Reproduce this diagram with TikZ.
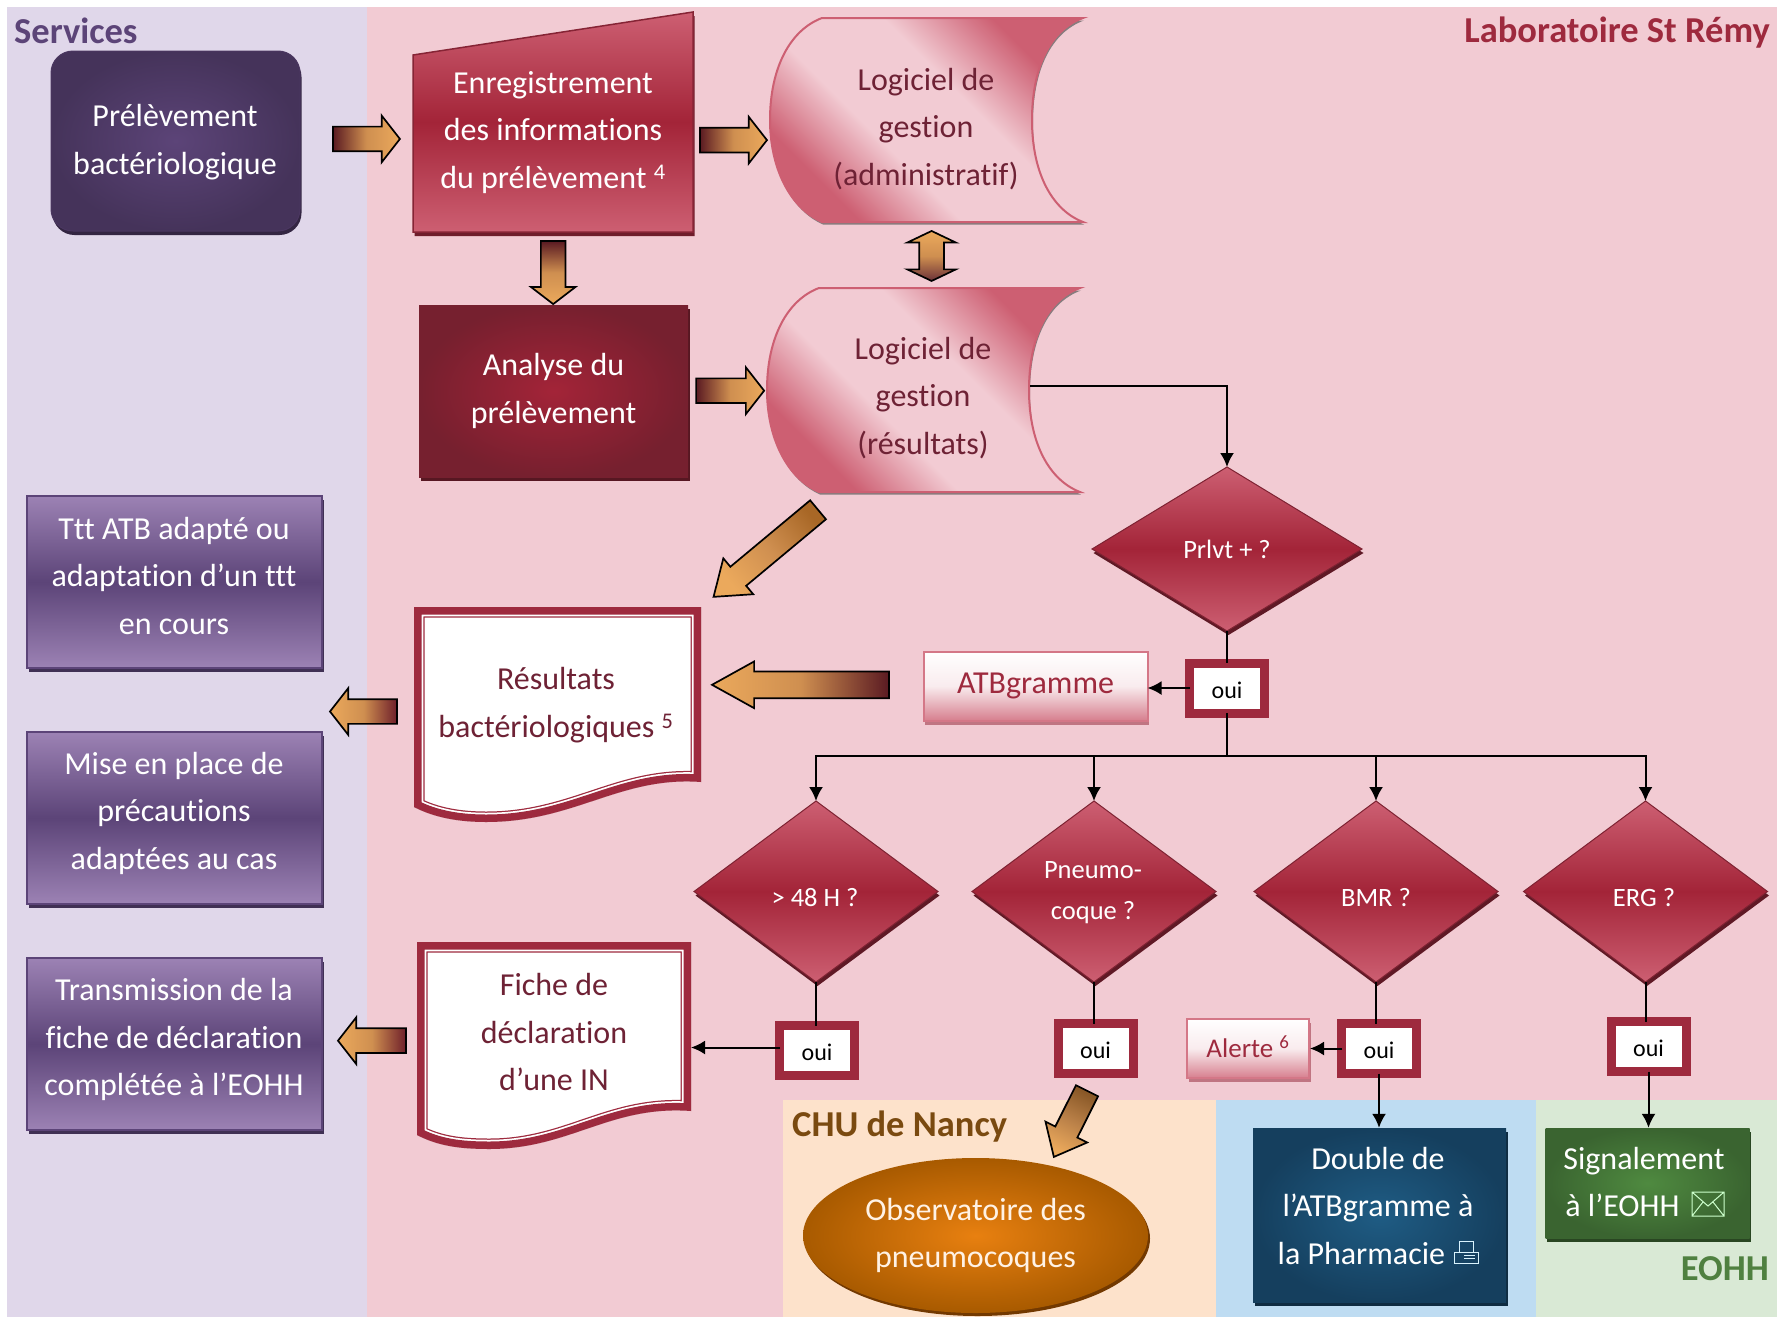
\documentclass[tikz,border=0pt]{standalone}
\usepackage{fontspec}
\setmainfont[Ligatures=NoCommon]{Carlito}
\usepackage{tikz}
\usetikzlibrary{arrows.meta}
\usetikzlibrary{shapes.geometric}
\usetikzlibrary{shapes.arrows}
\usetikzlibrary{shadows}

\definecolor{lilacbg}{HTML}{E0D7EA}
\definecolor{pinkbg}{HTML}{F2CBD3}
\definecolor{orangebg}{HTML}{FDE2CB}
\definecolor{bluebg}{HTML}{BEDCF2}
\definecolor{greenbg}{HTML}{D9E9D5}
\definecolor{maroon}{HTML}{9E2A3E}
\definecolor{crimson}{HTML}{A32438}
\definecolor{winetext}{HTML}{6E2235}
\definecolor{rosy}{HTML}{CD5F72}
\definecolor{violetdark}{HTML}{5C4478}
\definecolor{violetlight}{HTML}{9C82B4}
\definecolor{arrowtail}{HTML}{5A1A22}
\definecolor{arrowmid}{HTML}{CF8F50}
\definecolor{arrowtip}{HTML}{EBA95C}
\definecolor{browntitle}{HTML}{7A4A10}
\definecolor{greentitle}{HTML}{4F8040}
\definecolor{orangein}{HTML}{E88010}
\definecolor{orangeout}{HTML}{A85A00}
\definecolor{bluein}{HTML}{1F5C84}
\definecolor{blueout}{HTML}{153F5E}
\definecolor{greenin}{HTML}{4F8A40}
\definecolor{greenout}{HTML}{3A6430}

\pgfdeclareverticalshading{storedshade}{100bp}{color(0bp)=(rosy); color(27bp)=(rosy); color(41bp)=(pinkbg); color(58bp)=(pinkbg); color(73bp)=(rosy); color(100bp)=(rosy)}

\tikzset{
    bodytext/.style={font=\fontsize{32}{47.5}\selectfont, align=center, inner sep=0pt, outer sep=0pt},
    smalltext/.style={font=\fontsize{26.5}{41}\selectfont, align=center, inner sep=0pt, outer sep=0pt, text=white},
    zonetitle/.style={font=\fontsize{36.5}{40}\selectfont\bfseries, inner sep=0pt},
    link/.style={line width=2pt},
    linkarrow/.style={link, -{Latex[length=14pt,width=14pt]}},
    solidbox/.style={bodytext, text=white, rectangle},
    shadedark/.style={general shadow={shadow xshift=1.5pt, shadow yshift=-4pt, fill=#1}},
    violetbox/.style={rectangle, draw=violetdark, line width=1.5pt, top color=violetlight, bottom color=violetlight, middle color=violetdark, shadedark=violetdark!70!black, minimum width=295pt, minimum height=172pt},
    rosebox/.style={rectangle, draw=rosy!85!white, line width=2pt, top color=white, bottom color=rosy!80!white, middle color=white!88!rosy, shadedark=maroon!65!white},
    ouibox/.style={rectangle, draw=maroon, line width=9pt, fill=white, text=black, font=\fontsize{24}{30}\selectfont, text height=21pt, minimum width=75pt, minimum height=50pt, inner sep=0pt, outer sep=0pt},
    question/.style={diamond, draw=maroon!80!black, line width=1pt, top color=rosy, bottom color=rosy, middle color=crimson, shadedark=maroon!60!black, minimum width=244pt, minimum height=181pt, inner sep=0pt, outer sep=0pt},
    bigarrow/.style={single arrow, anchor=tail, draw=black, line width=1.7pt, inner xsep=0pt, inner ysep=11.5pt, outer sep=0pt, single arrow head extend=11pt, top color=arrowtail, bottom color=arrowtip, middle color=arrowmid},
    storeddata/.pic={
        \draw[draw=rosy, line width=2pt, shading=storedshade, shading angle=-45, general shadow={shadow xshift=1pt, shadow yshift=-2.5pt, fill=gray!90!rosy}]
            (52,0) -- (313,0) .. controls (280,12) and (262,50) .. (262,102) .. controls (262,155) and (282,192) .. (313,204)
            -- (52,204) .. controls (20,190) and (0,150) .. (0,102) .. controls (0,50) and (20,12) .. (52,0) -- cycle;
    },
}

% double framed sheet, the frame is cut by the sheet itself
\newcommand{\framedsheet}[1]{
    \begin{scope}
        \fill[white] #1;
        \clip #1;
        \draw[maroon, line width=21pt] #1;
        \draw[white, line width=18.5pt] #1;
        \draw[maroon, line width=15pt] #1;
    \end{scope}
}

\begin{document}
\begin{tikzpicture}[x=1pt, y=-1pt]
    \useasboundingbox (0, 0) rectangle (1780, 1317);
    % zones
    \fill[lilacbg] (7, 7) rectangle (367, 1317);
    \fill[pinkbg] (367, 7) rectangle (1777, 1100);
    \fill[pinkbg] (367, 1100) rectangle (783, 1317);
    \fill[orangebg] (783, 1100) rectangle (1216, 1317);
    \fill[bluebg] (1216, 1100) rectangle (1536, 1317);
    \fill[greenbg] (1536, 1100) rectangle (1777, 1317);
    \node[zonetitle, text=violetdark, anchor=west] (services) at (14, 31) {Services};
    \node[zonetitle, text=maroon, anchor=east] (labo) at (1770, 33) {Laboratoire St Rémy};
    \node[zonetitle, text=browntitle, anchor=west] (chu) at (792, 1127) {CHU de Nancy};
    \node[zonetitle, text=greentitle, anchor=east] (eohh) at (1769, 1269) {EOHH};

    % services
    \node[solidbox, rounded corners=22pt, minimum width=249pt, minimum height=180pt, draw=violetdark!80!black, line width=1pt, inner color=violetdark, outer color=violetdark!75!black, shadedark=violetdark!55!black] (prelev) at (175.5, 141) {};
    \node[bodytext, text=white] (prelevtext) at (175, 142) {Prélèvement\\bactériologique};
    \node[violetbox] (ttt) at (174.5, 582) {};
    \node[bodytext, text=white] (ttttext) at (174, 575.5) {Ttt ATB adapté ou\\adaptation d’un ttt\\en cours};
    \node[violetbox] (mise) at (174.5, 818) {};
    \node[bodytext, text=white] (misetext) at (174, 813) {Mise en place de\\précautions\\adaptées au cas};
    \node[violetbox] (trans) at (174.5, 1044) {};
    \node[bodytext, text=white] (transtext) at (174, 1039.5) {Transmission de la\\fiche de déclaration\\complétée à l’EOHH};

    % laboratoire
    \draw[draw=maroon!85!black, line width=1.5pt, top color=rosy, bottom color=rosy, middle color=crimson, shadedark=maroon!70!black] (413, 55) -- (693, 12) -- (693, 232) -- (413, 232) -- cycle;
    \node[bodytext, text=white] (enreg) at (553, 132.5) {Enregistrement\\des informations\\du prélèvement \textsuperscript{4}};
    \node[solidbox, minimum width=269pt, minimum height=172pt, inner color=crimson, outer color=maroon!75!black, shadedark=maroon!55!black] (analyse) at (553.5, 391) {Analyse du\\prélèvement};
    \pic at (770, 18) {storeddata};
    \pic at (767, 288) {storeddata};
    \node[bodytext, text=winetext] (logadm) at (926, 129) {Logiciel de\\gestion\\(administratif)};
    \node[bodytext, text=winetext, minimum width=214pt] (logres) at (923, 398) {Logiciel de\\gestion\\(résultats)};

    \framedsheet{(414, 607) -- (701, 607) -- (701, 782) .. controls (620, 776) and (575, 822) .. (486, 822) .. controls (460, 822) and (435, 818) .. (414, 807) -- cycle}
    \node[bodytext, text=winetext] (result) at (556, 705) {Résultats\\bactériologiques \textsuperscript{5}};
    \framedsheet{(417, 942) -- (691, 942) -- (691, 1111) .. controls (610, 1105) and (570, 1149) .. (489, 1149) .. controls (460, 1149) and (438, 1146) .. (417, 1135) -- cycle}
    \node[bodytext, text=winetext, minimum width=274pt] (fiche) at (554, 1032) {Fiche de\\déclaration\\d’une IN};

    \node[question, minimum width=270pt, minimum height=164pt] (prlvt) at (1227, 549) {};
    \node[smalltext] (prlvttext) at (1227, 549) {Prlvt + ?};
    \node[ouibox] (ouiprlvt) at (1227, 688) {oui};
    \node[rosebox, bodytext, text=maroon, minimum width=224pt, minimum height=69pt] (atb) at (1035.5, 686) {ATBgramme};

    \node[question] (chk48) at (816, 891.5) {};
    \node[smalltext] (chk48text) at (815, 898) {> 48 H ?};
    \node[question] (pneumo) at (1094, 891.5) {};
    \node[smalltext] (pneumotext) at (1093, 893) {Pneumo-\\coque ?};
    \node[question] (bmr) at (1376, 891.5) {};
    \node[smalltext] (bmrtext) at (1376, 898) {BMR ?};
    \node[question] (erg) at (1645.5, 891.5) {};
    \node[smalltext] (ergtext) at (1644, 898) {ERG ?};
    \node[ouibox] (oui48) at (817, 1050.5) {oui};
    \node[ouibox] (ouipneumo) at (1095.5, 1048.5) {oui};
    \node[ouibox] (ouibmr) at (1379, 1048.5) {oui};
    \node[ouibox] (ouierg) at (1648.5, 1046.5) {oui};
    \node[rosebox, minimum width=122pt, minimum height=59pt, inner sep=0pt] (alerte) at (1248, 1048.5) {};
    \node[font=\fontsize{27}{30}\selectfont, text=maroon, inner sep=0pt] (alertetext) at (1248, 1046.5) {Alerte \textsuperscript{6}};

    \node[ellipse, bodytext, text=white!90!orange, minimum width=345pt, minimum height=155pt, inner color=orangein, outer color=orangeout, general shadow={shadow xshift=2pt, shadow yshift=-3pt, fill=orange!45!black}] (obs) at (975.5, 1235.5) {Observatoire des\\pneumocoques};
    \node[rectangle, minimum width=253pt, minimum height=174pt, inner color=bluein, outer color=blueout, shadedark=blueout!70!black] (double) at (1379.5, 1215) {};
    \node[bodytext, text=white] (doubletext) at (1378, 1205.5) {Double de\\l’ATBgramme à\\la Pharmacie \hspace*{26pt}};
    \node[rectangle, minimum width=204pt, minimum height=110pt, inner color=greenin, outer color=greenout, shadedark=greenout!70!black] (signal) at (1647.5, 1183) {};
    \node[bodytext, text=white] (signaltext) at (1644, 1182) {Signalement\\à l’EOHH \hspace*{36pt}};

    % envelope and printer
    \draw[white!80!green, line width=1pt] (1692, 1192) rectangle (1724, 1216) (1692, 1192) -- (1708, 1206) -- (1724, 1192) (1692, 1216) -- (1703, 1202) (1724, 1216) -- (1713, 1202);
    \draw[white!85!cyan, line width=1pt] (1459, 1241) -- (1473, 1241) -- (1473, 1252) (1459, 1241) -- (1459, 1252) (1454, 1252) rectangle (1478, 1263) (1464, 1255) -- (1475, 1255) (1464, 1258) -- (1475, 1258);

    % block arrows
    \path (prelev.center) -- (enreg.center) node[bigarrow, pos=.417, yshift=-1.5pt, minimum height=67pt, single arrow tip angle=104, shading angle=90] (pa) {};
    \path (enreg.center) -- (logadm.center) node[bigarrow, pos=.394, yshift=-9pt, minimum height=67pt, single arrow tip angle=104, shading angle=90] (pb) {};
    \path (enreg.center) -- (analyse.center) node[bigarrow, pos=.42, minimum height=63pt, rotate=-90, single arrow tip angle=105, single arrow head extend=10pt, shading angle=0] (pc) {};
    \path (analyse.center) -- (logres.center) node[bigarrow, pos=.386, yshift=3pt, minimum height=68pt, single arrow tip angle=104, shading angle=90] (pd) {};
    \path (logadm.center) -- (logres.center) node[double arrow, draw=black, line width=1.7pt, inner xsep=0pt, inner ysep=11.5pt, outer sep=0pt, double arrow head extend=12pt, double arrow tip angle=129, minimum height=50pt, pos=.472, xshift=7pt, rotate=90, top color=arrowtip, bottom color=arrowtail!90!white, middle color=arrowmid] (pe) {};
    \path (logres.center) -- (result.center) node[bigarrow, pos=.286, yshift=-24pt, minimum height=136pt, rotate=219.8, single arrow tip angle=72, top color=orange!60!black!85!white, bottom color=arrowtip, middle color=arrowmid, shading angle=309.8] (pf) {};
    \path (atb.center) -- (result.center) node[bigarrow, pos=.3055, yshift=7pt, minimum height=177pt, rotate=180, inner ysep=12.5pt, single arrow head extend=10pt, single arrow tip angle=58, shading angle=270] (pg) {};
    \path (result.center) -- (result.center -| ttt.center) node[bigarrow, pos=.4168, yshift=-6.5pt, minimum height=67pt, rotate=180, single arrow tip angle=104, top color=arrowtail!70!maroon, bottom color=arrowtip, middle color=arrowmid, shading angle=270] (ph) {};
    \path (fiche.center) -- (trans.center) node[bigarrow, pos=.39, yshift=-4pt, minimum height=68pt, rotate=180, single arrow tip angle=104, top color=arrowtail!70!maroon, bottom color=arrowtip, middle color=arrowmid, shading angle=270] (pi) {};
    \path (ouipneumo.center) -- (obs.center) node[bigarrow, pos=.0708, yshift=-29pt, minimum height=74pt, rotate=243.4, single arrow tip angle=80, top color=orange!45!black!85!white, bottom color=arrowtip, middle color=arrowmid!90!black, shading angle=333.4] (pj) {};

    % links
    \coordinate (bus) at (1227, 756);
    \draw[linkarrow] ([yshift=12pt]logres.east) -| (prlvt.north);
    \draw[link] (prlvt.south) -- (ouiprlvt.north);
    \draw[linkarrow] (ouiprlvt.west) -- (ouiprlvt.west -| atb.east);
    \draw[link] (ouiprlvt.south) -- (bus);
    \draw[linkarrow] (bus) -| (chk48.north);
    \draw[linkarrow] (bus) -| (pneumo.north);
    \draw[linkarrow] (bus) -| (bmr.north);
    \draw[linkarrow] (bus) -| (erg.north);
    \draw[link] (chk48.south) -- (chk48.south |- oui48.north);
    \draw[link] (pneumo.south) -- (pneumo.south |- ouipneumo.north);
    \draw[link] (bmr.south) -- (bmr.south |- ouibmr.north);
    \draw[link] (erg.south) -- (erg.south |- ouierg.north);
    \draw[linkarrow] ([yshift=3pt]oui48.west) -- ([yshift=3pt]oui48.west -| fiche.east);
    \draw[linkarrow] (ouibmr.west) -- (ouibmr.west -| alerte.east);
    \draw[linkarrow] (ouibmr.south) -- (ouibmr.south |- double.north);
    \draw[linkarrow] (ouierg.south) -- (ouierg.south |- signal.north);
\end{tikzpicture}
\end{document}
